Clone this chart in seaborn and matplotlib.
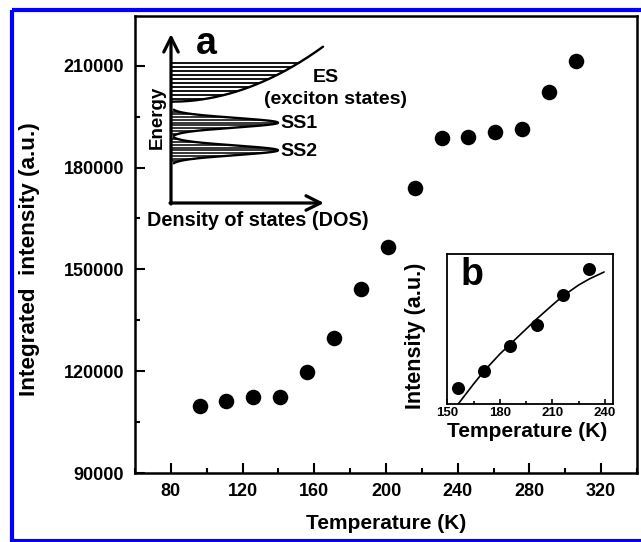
import numpy as np
import pandas as pd
import matplotlib
matplotlib.use("Agg")
import matplotlib.pyplot as plt
import seaborn as sns
from matplotlib.patches import Rectangle
from matplotlib.ticker import MultipleLocator, NullLocator

# ----------------------------------------------------------
# DATA
# ----------------------------------------------------------
temperature = [96, 111, 126, 141, 156, 171, 186, 201, 216, 231, 246, 261, 276, 291, 306]
intensity = [109750, 111140, 112410, 112410, 119800, 129700, 144100, 156500,
             173850, 188770, 189060, 190360, 191250, 202330, 211470]

inset_temp = [156, 171, 186, 201, 216, 231]
inset_int = [16, 33, 58, 79, 109, 135]

fit_temp = [156.2, 165, 171, 180, 186, 195, 201, 210, 216, 225, 231, 239.5]
fit_int = [0, 20, 33, 50, 60, 75, 85, 99, 108, 119, 125, 132]

main_xticks = [80, 120, 160, 200, 240, 280, 320]
main_yticks = [90000, 120000, 150000, 180000, 210000]
inset_xticks = [150, 180, 210, 240]

# schematic DOS (panel a), in figure pixel units
es_levels = np.arange(63, 100, 4)
ss_centers = [122.7, 150.3]
ss_height = 107
ss_sigma = 4.8

# ----------------------------------------------------------
# STYLE
# ----------------------------------------------------------
sns.set_theme(style="ticks")
plt.rcParams["font.family"] = ["Liberation Sans", "DejaVu Sans"]
plt.rcParams["font.weight"] = "bold"
plt.rcParams["axes.labelweight"] = "bold"
plt.rcParams["xtick.direction"] = "in"
plt.rcParams["ytick.direction"] = "in"
for k in ["text.color", "axes.labelcolor", "xtick.color", "ytick.color", "axes.edgecolor"]:
    plt.rcParams[k] = "black"

W, H = 641, 542
fig = plt.figure(figsize=(W / 100, H / 100), dpi=100)
fig.patch.set_facecolor("white")

# ----------------------------------------------------------
# MAIN AXES
# ----------------------------------------------------------
L, R, T, B = 135, 637, 16, 473
ax = fig.add_axes([L / W, (H - B) / H, (R - L) / W, (B - T) / H])
df = pd.DataFrame({"T": temperature, "I": intensity})
sns.scatterplot(data=df, x="T", y="I", ax=ax, s=125, color="black",
                edgecolor="black", linewidth=0, zorder=3)
ax.set_xlim(60, 340)
ax.set_ylim(90000, 224650)
ax.set_xticks(main_xticks)
ax.set_yticks(main_yticks)
ax.xaxis.set_minor_locator(MultipleLocator(20))
ax.yaxis.set_minor_locator(MultipleLocator(15000))
ax.tick_params(which="major", length=7, width=1.5, labelsize=13, pad=7)
ax.tick_params(which="minor", length=3.5, width=1.5)
ax.tick_params(axis="y", pad=8)
for lab in ax.get_xticklabels() + ax.get_yticklabels():
    lab.set_fontweight("bold")
for sp in ax.spines.values():
    sp.set_linewidth(1.8)
ax.set_xlabel("Temperature (K)", fontsize=15, fontweight="bold")
ax.set_ylabel("Integrated  intensity (a.u.)", fontsize=16.2, fontweight="bold")
ax.xaxis.set_label_coords(0.5, (B - 514) / (B - T))
ax.yaxis.set_label_coords((40 - L) / (R - L), (B - 259.5) / (B - T))

# ----------------------------------------------------------
# INSET b
# ----------------------------------------------------------
iL, iR, iT, iB = 447.3, 612.7, 254, 404
axb = fig.add_axes([iL / W, (H - iB) / H, (iR - iL) / W, (iB - iT) / H])
sns.lineplot(x=fit_temp, y=fit_int, ax=axb, color="black", linewidth=1.2)
sns.scatterplot(x=inset_temp, y=inset_int, ax=axb, s=88, color="black",
                linewidth=0, zorder=3)
axb.set_xlim(150, 244.4)
axb.set_ylim(0, 150)
axb.set_xticks(inset_xticks)
axb.xaxis.set_minor_locator(MultipleLocator(15))
axb.yaxis.set_major_locator(NullLocator())
axb.tick_params(which="major", length=3.5, width=1.2, labelsize=9.5, pad=2)
axb.tick_params(which="minor", length=2, width=1.2)
for lab in axb.get_xticklabels():
    lab.set_fontweight("bold")
for sp in axb.spines.values():
    sp.set_linewidth(1.3)
axb.set_xlabel("Temperature (K)", fontsize=15, fontweight="bold")
axb.set_ylabel("Intensity (a.u.)", fontsize=15.5, fontweight="bold")
axb.xaxis.set_label_coords(0.485, (iB - 422) / (iB - iT))
axb.yaxis.set_label_coords((426 - iL) / (iR - iL), (iB - 336) / (iB - iT))

# ----------------------------------------------------------
# OVERLAY (schematic a, labels, blue frame)
# ----------------------------------------------------------
ov = fig.add_axes([0, 0, 1, 1], zorder=5)
ov.set_xlim(0, W)
ov.set_ylim(H, 0)
ov.axis("off")
ov.patch.set_alpha(0)

x0 = 171
es_bottom, es_k, es_top = 101.7, 20.5, 46.7
yy = np.linspace(es_top, es_bottom, 200)
ov.plot(x0 + es_k * np.sqrt(es_bottom - yy), yy, color="black", lw=1.7)
for yl in es_levels:
    ov.plot([x0, x0 + es_k * np.sqrt(es_bottom - yl)], [yl, yl],
            color="black", lw=1.3)

for c in ss_centers:
    ys = np.linspace(c - 13, c + 13, 200)
    xs = x0 + ss_height * np.exp(-(ys - c) ** 2 / (2 * ss_sigma ** 2))
    ov.plot(xs, ys, color="black", lw=1.7)
    for yl in np.arange(c - 11, c + 12, 2.75):
        ov.plot([x0, x0 + ss_height * np.exp(-(yl - c) ** 2 / (2 * ss_sigma ** 2))],
                [yl, yl], color="black", lw=1.1)

arrow = dict(arrowstyle="->", lw=2.3, color="black", mutation_scale=26,
             shrinkA=0, shrinkB=0)
ov.annotate("", xy=(x0, 34), xytext=(x0, 204), arrowprops=arrow)
ov.annotate("", xy=(324, 203), xytext=(x0 - 1, 203), arrowprops=arrow)

bold = dict(fontweight="bold", color="black")
ov.text(206, 44, "a", fontsize=27, ha="center", va="center", **bold)
ov.text(472, 275, "b", fontsize=27, ha="center", va="center", **bold)
ov.text(157, 117, "Energy", fontsize=13.5, rotation=90, ha="center", va="center", **bold)
ov.text(258, 220, "Density of states (DOS)", fontsize=14.3, ha="center", va="center", **bold)
ov.text(326, 78, "ES", fontsize=14, ha="center", va="center", **bold)
ov.text(336, 99, "(exciton states)", fontsize=14, ha="center", va="center", **bold)
ov.text(280, 123, "SS1", fontsize=14, ha="left", va="center", **bold)
ov.text(280, 151, "SS2", fontsize=14, ha="left", va="center", **bold)

ov.add_patch(Rectangle((12, 10), 640, 531, fill=False, edgecolor="#0000ff", lw=3))

fig.savefig("out.png", dpi=100)
